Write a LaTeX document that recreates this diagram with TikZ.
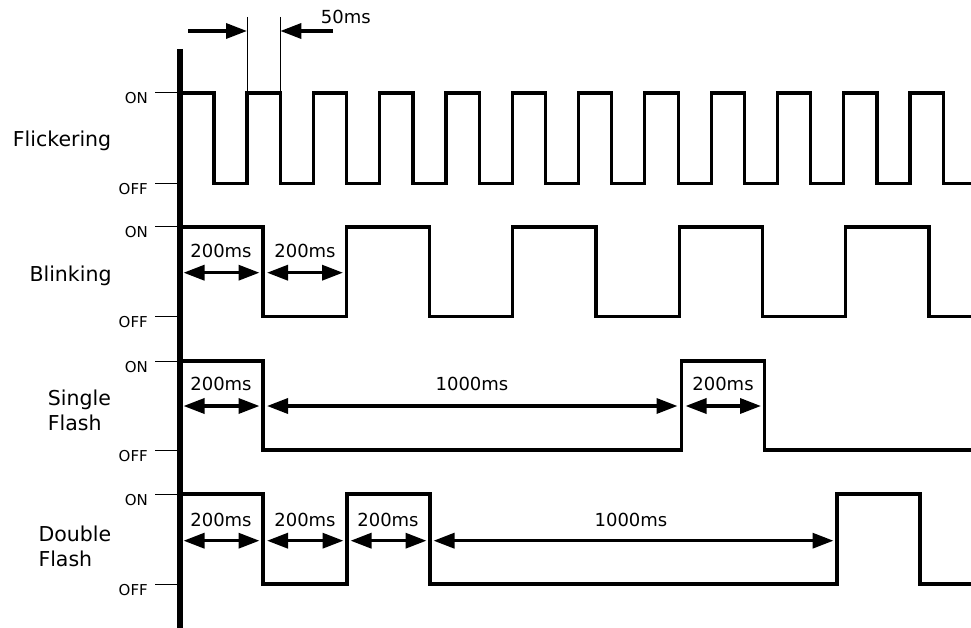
\documentclass[tikz,border=0pt]{standalone}
\usepackage{fontspec}
\setmainfont{DejaVu Sans}
\usetikzlibrary{arrows.meta}
\begin{document}
\begin{tikzpicture}[x=1pt,y=-1pt,
  wave/.style={line width=3.2pt, line join=miter},
  tipp/.style={},
  dim/.style={line width=3.4pt, {Triangle[length=21pt,width=15pt]}-{Triangle[length=21pt,width=15pt]}},
  halfdim/.style={line width=3.4pt, -{Triangle[length=21pt,width=15pt]}},
  thinline/.style={line width=1pt},
  lvl/.style={font=\fontsize{15}{18}\selectfont, anchor=base east, inner sep=0pt},
  ms/.style={font=\fontsize{18}{21}\selectfont, anchor=base, inner sep=0pt},
  signame/.style={font=\fontsize{20.5}{25}\selectfont, anchor=base west, inner sep=0pt}]
\useasboundingbox (0,0) rectangle (971,628);

% level ticks
\foreach \y in {93,183.5,227,316.7,361,450,494,584}
  \draw[thinline] (155,\y) -- (180,\y);

% level labels
\node[lvl] (on1)  at (148,104)   {ON};
\node[lvl] (off1) at (148,194.5) {OFF};
\node[lvl] (on2)  at (148,238)   {ON};
\node[lvl] (off2) at (148,327.7) {OFF};
\node[lvl] (on3)  at (148,372)   {ON};
\node[lvl] (off3) at (148,461)   {OFF};
\node[lvl] (on4)  at (148,505)   {ON};
\node[lvl] (off4) at (148,595)   {OFF};

% signal names
\node[signame] (flick) at (12.7,146.7) {Flickering};
\node[signame] (blink) at (29.3,281.7) {Blinking};
\node[signame] (single1) at (47.7,405) {Single};
\node[signame] (single2) at (47.7,430) {Flash};
\node[signame] (double1) at (38.3,541.5) {Double};
\node[signame] (double2) at (38.3,566) {Flash};

% Flickering waveform
\draw[wave] (180,93)
  foreach \k in {0,...,10} {
    -- ({214+66.3*\k},93) -- ({214+66.3*\k},183.5)
    -- ({247+66.3*\k},183.5) -- ({247+66.3*\k},93) }
  -- (943.3,93) -- (943.3,183.5) -- (980,183.5);

% 50ms marker
\draw[thinline] (247,17) -- (247,93);
\draw[thinline] (280.3,17) -- (280.3,93);
\draw[halfdim] (188,31) -- (247,31);
\draw[halfdim] (333,31) -- (280.3,31);
\node[ms, anchor=base west] (t50) at (320.7,23.3) {50ms};

% Blinking waveform
\draw[wave] (180,227) -- (263,227) -- (263,316.7) -- (346.25,316.7) -- (346.25,227)
  -- (429.5,227) -- (429.5,316.7) -- (512.75,316.7) -- (512.75,227)
  -- (596,227) -- (596,316.7) -- (679.25,316.7) -- (679.25,227)
  -- (762.5,227) -- (762.5,316.7) -- (845.75,316.7) -- (845.75,227)
  -- (929,227) -- (929,316.7) -- (980,316.7);
\draw[dim] (183.5,272.7) -- (259.5,272.7);
\draw[dim] (267,272.7) -- (343,272.7);
\node[ms] (b1) at (221,257.7) {200ms};
\node[ms] (b2) at (305,257.7) {200ms};

% Single flash waveform
\draw[wave] (180,361) -- (263,361) -- (263,450) -- (681.5,450) -- (681.5,361)
  -- (764.5,361) -- (764.5,450) -- (980,450);
\draw[dim] (183.5,406) -- (259.5,406);
\draw[dim] (267,406) -- (677.5,406);
\draw[dim] (685.5,406) -- (761,406);
\node[ms] (s1) at (221,390.5) {200ms};
\node[ms] (s2) at (472,390.5) {1000ms};
\node[ms] (s3) at (723,390.5) {200ms};

% Double flash waveform
\draw[wave] (180,494) -- (263,494) -- (263,584) -- (347,584) -- (347,494)
  -- (430,494) -- (430,584) -- (837,584) -- (837,494)
  -- (920,494) -- (920,584) -- (980,584);
\draw[dim] (183.5,540.7) -- (259.5,540.7);
\draw[dim] (267,540.7) -- (343.5,540.7);
\draw[dim] (350.5,540.7) -- (426.5,540.7);
\draw[dim] (433.5,540.7) -- (833.5,540.7);
\node[ms] (d1) at (221,526.5) {200ms};
\node[ms] (d2) at (305,526.5) {200ms};
\node[ms] (d3) at (388,526.5) {200ms};
\node[ms] (d4) at (631,526.5) {1000ms};

% time axis
\draw[line width=6pt] (180.3,49) -- (180.3,640);
\end{tikzpicture}
\end{document}
